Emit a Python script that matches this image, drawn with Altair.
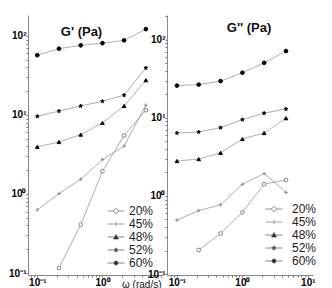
import math
import altair as alt
import pandas as pd

# ---------------- data ----------------
omega = [0.1, 0.215, 0.464, 1.0, 2.15, 4.64]
series = ["20%", "45%", "48%", "52%", "60%"]

# G' (Pa)
g1_20 = [None, 0.116, 0.41, 1.94, 5.5, 11.5]
g1_45 = [0.63, 1.01, 1.54, 2.72, 4.05, 13.3]
g1_48 = [3.94, 4.55, 5.64, 7.93, 13.0, 27.5]
g1_52 = [9.6, 11.2, 13.0, 14.9, 17.8, 39.4]
g1_60 = [57, 69, 76, 81, 88, 122]

# G'' (Pa)
g2_20 = [None, 0.203, 0.33, 0.615, 1.42, 1.60]
g2_45 = [0.49, 0.65, 0.77, 1.41, 1.94, 1.11]
g2_48 = [2.80, 2.97, 3.57, 5.37, 6.40, 9.91]
g2_52 = [6.4, 6.6, 7.5, 9.5, 11.5, 13.0]
g2_60 = [25.9, 26.7, 29.6, 37.9, 50.7, 71.9]

panel_titles = ["G' (Pa)", "G'' (Pa)"]
x_title = "\u03c9 (rad/s)"
decade_labels = {0.1: "10\u207b\u00b9", 1: "10\u2070", 10: "10\u00b9", 100: "10\u00b2"}


def long_df(cols):
    rows = []
    for s, vals in zip(series, cols):
        for w, v in zip(omega, vals):
            if v is not None:
                rows.append({"omega": w, "value": v, "series": s})
    return pd.DataFrame(rows)


df1 = long_df([g1_20, g1_45, g1_48, g1_52, g1_60])
df2 = long_df([g2_20, g2_45, g2_48, g2_52, g2_60])


def log_ticks(lo, hi):
    out = []
    for e in range(-3, 4):
        for m in range(1, 10):
            v = round(m * 10 ** e, 6)
            if lo <= v <= hi:
                out.append(v)
    return out


label_expr = " : ".join(
    f"datum.value == {k} ? '{v}'" for k, v in decade_labels.items()
) + " : ''"

# ---------------- styles ----------------
star = "M0,-1L0.235,-0.324L0.951,-0.309L0.38,0.124L0.588,0.809L0,0.4L-0.588,0.809L-0.38,0.124L-0.951,-0.309L-0.235,-0.324Z"
small_star = "M0,-0.45L0.106,-0.146L0.428,-0.139L0.171,0.056L0.265,0.364L0,0.18L-0.265,0.364L-0.171,0.056L-0.428,-0.139L-0.106,-0.146Z"
data_shapes = ["circle", "M-1,0H1M0,-1V1", "triangle-up", star, "circle"]
point_fills = ["white", "transparent", "black", "black", "black"]
point_strokes = ["#777", "#888", "black", "black", "black"]

legend_shapes = [
    "M-1.7,0H-0.45M0.45,0H1.7M-0.45,0A0.45,0.45 0 1,1 0.45,0A0.45,0.45 0 1,1 -0.45,0Z",
    "M-1.7,0H1.7M0,-0.45V0.45",
    "M-1.7,0H1.7M0,-0.5L0.5,0.4L-0.5,0.4Z",
    "M-1.7,0H1.7" + small_star,
    "M-1.7,0H1.7M-0.4,0A0.4,0.4 0 1,1 0.4,0A0.4,0.4 0 1,1 -0.4,0Z",
]
legend_fills = ["white", "transparent", "black", "black", "black"]
legend_strokes = ["#777", "#888", "#666", "#666", "#666"]

FONT = "Liberation Sans"


def panel(df, title, xdom, ydom, w, h, xtitle, legx, legy, laboff, tdx):
    xaxis = dict(values=log_ticks(*xdom), labelExpr=label_expr, labelOverlap=False,
                 labelFlush=False, title=None)
    if xtitle:
        xaxis.update(title=xtitle, titleX=w - 2, titleY=4, titleAlign="right",
                     titleBaseline="top", titleFontWeight="normal", titleFontSize=10,
                     titleFont=FONT, titleColor="#111")
    base = alt.Chart(df).encode(
        x=alt.X("omega:Q", scale=alt.Scale(type="log", domain=list(xdom), nice=False),
                axis=alt.Axis(**xaxis)),
        y=alt.Y("value:Q", scale=alt.Scale(type="log", domain=list(ydom), nice=False),
                axis=alt.Axis(values=log_ticks(*ydom), labelExpr=label_expr,
                              labelOverlap=False, labelFlush=False, title=None)),
    )
    lines = base.mark_line(color="#999", strokeWidth=0.8).encode(
        detail="series:N", order="omega:Q")
    pts = base.mark_point(size=14, strokeWidth=0.9, opacity=1).encode(
        shape=alt.Shape("series:N", scale=alt.Scale(domain=series, range=data_shapes), legend=None),
        fill=alt.Fill("series:N", scale=alt.Scale(domain=series, range=point_fills), legend=None),
        stroke=alt.Stroke("series:N", scale=alt.Scale(domain=series, range=point_strokes), legend=None),
    )
    leg = alt.Legend(orient="none", legendX=legx, legendY=legy, title=None,
                     symbolSize=100, symbolStrokeWidth=0.8,
                     symbolOpacity=1, labelFont=FONT, labelFontSize=12, labelColor="#222",
                     labelOffset=laboff, rowPadding=1, padding=0)
    leg_layer = alt.Chart(pd.DataFrame({"series": series})).transform_filter("false").mark_point(
        strokeWidth=0.8, opacity=1).encode(
        shape=alt.Shape("series:N", scale=alt.Scale(domain=series, range=legend_shapes), legend=leg),
        fill=alt.Fill("series:N", scale=alt.Scale(domain=series, range=legend_fills), legend=leg),
        stroke=alt.Stroke("series:N", scale=alt.Scale(domain=series, range=legend_strokes), legend=leg),
    )
    return alt.layer(lines, pts, leg_layer).resolve_scale(
        shape="independent", fill="independent", stroke="independent"
    ).properties(
        width=w, height=h,
        title=alt.TitleParams(title, offset=-24, fontSize=13, font=FONT, frame="group",
                              fontWeight="bold", dx=tdx, color="#111"),
    )


H = 260
left = panel(df1, panel_titles[0], (0.072, 8.5), (0.0944, 184), 135, H, x_title, 82, 190, 7, -14)
right = panel(df2, panel_titles[1], (0.0705, 12), (0.0971, 208), 146, H, None, 101, 188, 12, 9)

chart = alt.hconcat(left, right, spacing=-16).properties(
    padding={"left": 0, "top": 3, "right": 0, "bottom": 0}
).configure_view(stroke=None).configure_axis(
    grid=False, domainColor="#888", tickColor="#777", tickSize=2, labelPadding=0,
    labelFont=FONT, labelFontWeight="bold", labelFontSize=10, labelColor="black",
).configure_title(anchor="middle")

chart.save("out.html", embed_options={"renderer": "svg", "actions": False})
